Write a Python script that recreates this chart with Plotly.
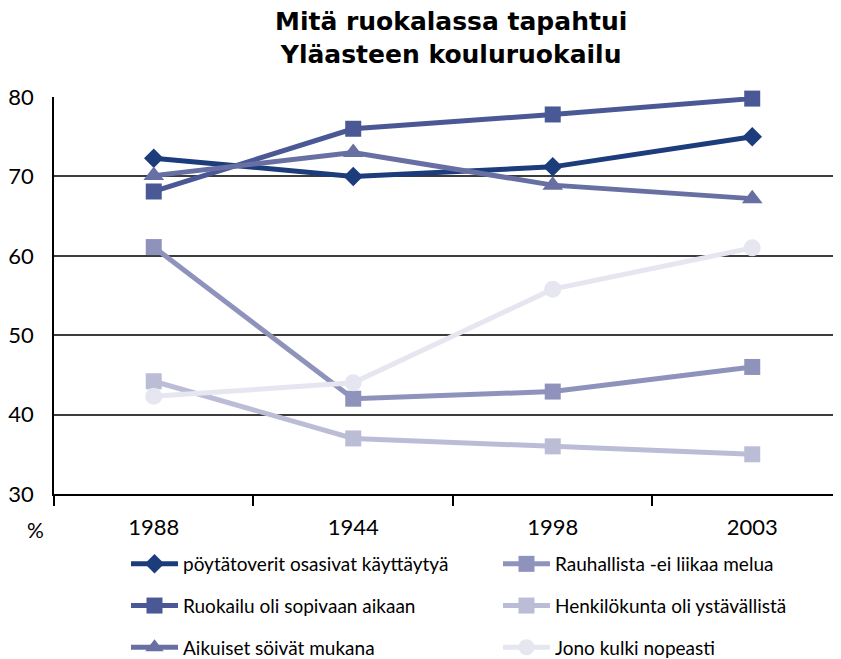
import plotly.graph_objects as go

categories = ["1988", "1944", "1998", "2003"]

s_poyta = [72.3, 70.0, 71.2, 75.0]
s_ruokailu = [68.1, 76.0, 77.8, 79.8]
s_aikuiset = [70.1, 73.0, 68.9, 67.2]
s_rauha = [61.1, 42.0, 42.9, 46.0]
s_henk = [44.2, 37.0, 36.0, 35.0]
s_jono = [42.3, 44.0, 55.8, 61.0]

names = ["pöytätoverit osasivat käyttäytyä", "Ruokailu oli sopivaan aikaan",
         "Aikuiset söivät mukana", "Rauhallista -ei liikaa melua",
         "Henkilökunta oli ystävällistä", "Jono kulki nopeasti"]

FONT = "Lato, 'Open Sans', sans-serif"
TITLE_FONT = "'DejaVu Sans', sans-serif"

series = [
    (names[0], s_poyta, "#1d3c7b", "diamond", 15, 5, "legend"),
    (names[1], s_ruokailu, "#4a5895", "square", 16, 5, "legend"),
    (names[2], s_aikuiset, "#6870a3", "triangle-up", 18, 5, "legend"),
    (names[3], s_rauha, "#8f93bc", "square", 16, 5, "legend2"),
    (names[4], s_henk, "#bbbdd6", "square", 16, 5, "legend2"),
    (names[5], s_jono, "#e6e6f1", "circle", 17, 5, "legend2"),
]

fig = go.Figure()
for nm, vals, col, sym, sz, lw, lg in series:
    fig.add_trace(go.Scatter(
        x=categories, y=vals, name=nm, mode="lines+markers",
        line=dict(color=col, width=lw),
        marker=dict(symbol=sym, size=sz, color=col),
        legend=lg, legendgroup=nm, cliponaxis=False,
    ))

# page is offset by 8px (body margin) -> figure sized to fit the window
W, H = 833, 651
L, T, R, B = 46, 89, 0, 165
PW = W - L - R
PH = H - T - B


def px(x):
    return (x - 8 - L) / PW


def py(y):
    return (H - B - (y - 8)) / PH


fig.update_layout(
    width=W, height=H,
    margin=dict(l=L, r=R, t=T, b=B, autoexpand=False),
    plot_bgcolor="white", paper_bgcolor="white",
    font=dict(family=FONT, color="black"),
    showlegend=True,
    legend=dict(x=px(126), y=py(545), xanchor="left", yanchor="top",
                orientation="v", tracegroupgap=14, itemwidth=47,
                font=dict(size=19, family=FONT), bgcolor="rgba(0,0,0,0)"),
    legend2=dict(x=px(498), y=py(545), xanchor="left", yanchor="top",
                 orientation="v", tracegroupgap=14, itemwidth=47,
                 font=dict(size=19, family=FONT), bgcolor="rgba(0,0,0,0)"),
    annotations=[
        dict(text="<b>Mitä ruokalassa tapahtui<br>Yläasteen kouluruokailu</b>",
             xref="paper", yref="paper", x=px(451), y=py(38.5),
             xanchor="center", yanchor="middle", showarrow=False,
             font=dict(size=25, family=TITLE_FONT, color="black"), align="center"),
        dict(text="%", xref="paper", yref="paper", x=px(35), y=py(529),
             xanchor="center", yanchor="middle", showarrow=False,
             font=dict(size=21, family=FONT, color="black")),
    ],
)

fig.update_xaxes(
    type="category", range=[-0.5, 3.445],
    tickson="boundaries", ticks="outside", ticklen=10, tickcolor="black", tickwidth=1.5,
    showgrid=False, showline=True, linecolor="black", linewidth=1.5,
    tickfont=dict(size=22, family=FONT, color="black"), ticklabelstandoff=13,
)
fig.update_yaxes(
    range=[30, 80], dtick=10, tick0=30,
    showgrid=True, gridcolor="#3c3c3c", gridwidth=1.5,
    showline=True, linecolor="black", linewidth=1.5,
    ticks="", tickfont=dict(size=22, family=FONT, color="black"),
    zeroline=False, ticklabelstandoff=14,
)

fig.write_html("out.html")
